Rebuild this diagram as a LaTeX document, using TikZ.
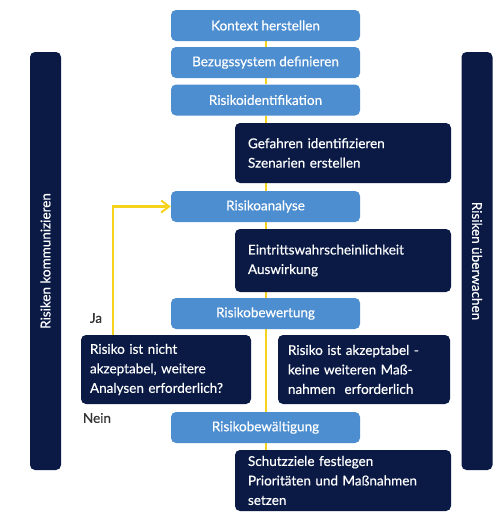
\documentclass[tikz,border=0pt]{standalone}
\usepackage{fontspec}
\setmainfont{Lato}[FakeBold=0.4]
\usetikzlibrary{arrows.meta}
\definecolor{stepblue}{HTML}{4D8ED0}
\definecolor{navy}{HTML}{0A1A45}
\definecolor{signal}{HTML}{F5D21C}
\definecolor{labelgrey}{HTML}{333333}
\pgfdeclarelayer{paper}
\pgfdeclarelayer{lines}
\pgfsetlayers{paper,lines,main}
\begin{document}
\begin{tikzpicture}[x=1pt,y=-1pt,
  boxfont/.style={font=\fontsize{13.5}{19.5}\selectfont},
  stepbox/.style={boxfont, fill=stepblue, text=white, rounded corners=5pt,
    minimum width=189pt, minimum height=31pt, inner sep=0pt},
  notebox/.style={boxfont, fill=navy, text=white, rounded corners=5pt,
    align=left, inner ysep=0pt},
  sidebar/.style={boxfont, fill=navy, text=white, rounded corners=5pt,
    minimum width=418pt, minimum height=31pt, inner sep=0pt},
  flow/.style={draw=signal, line width=2pt},
  loopback/.style={draw=signal, line width=2.5pt,
    -{Straight Barb[length=8pt,width=12pt,line width=2pt]}},
  answer/.style={text=labelgrey, font=\fontsize{13.5}{16}\selectfont, inner sep=0pt}
]
\begin{pgfonlayer}{paper}
\useasboundingbox (0,0) rectangle (499,512);
\fill[white] (0,0) rectangle (499,512);
\end{pgfonlayer}

% main process steps
\node[stepbox] (kontext)   at (265.5,25.5)  {Kontext herstellen};
\node[stepbox] (bezug)     at (265.5,62.5)  {Bezugssystem definieren};
\node[stepbox] (ident)     at (265.5,100)   {Risikoidentifikation};
\node[stepbox] (analyse)   at (265.5,206.5) {Risikoanalyse};
\node[stepbox] (bewertung) at (265.5,313.5) {Risikobewertung};
\node[stepbox] (bewaelt)   at (265.5,427.5) {Risikobewältigung};

% detail notes
\node[notebox, minimum width=216pt, minimum height=60pt, inner xsep=13pt, text width=190pt]
  (gefahren) at (343,153) {Gefahren identifizieren\\Szenarien erstellen};
\node[notebox, minimum width=216pt, minimum height=63pt, inner xsep=13pt, text width=190pt]
  (eintritt) at (343,260.5) {Eintrittswahrscheinlichkeit\\Auswirkung};
\node[notebox, minimum width=170pt, minimum height=69pt, inner xsep=9pt, text width=152pt]
  (nichtok) at (166,369.5) {Risiko ist nicht\\akzeptabel, weitere\\Analysen erforderlich?};
\node[notebox, minimum width=172pt, minimum height=69pt, inner xsep=10pt, text width=152pt]
  (okay) at (364,369.5) {Risiko ist akzeptabel -\\keine weiteren Maß-\\nahmen\ \ erforderlich};
\node[notebox, minimum width=216pt, minimum height=61pt, inner xsep=13pt, text width=190pt]
  (schutz) at (343,480.5) {Schutzziele festlegen\\Prioritäten und Maßnahmen\\setzen};

% the vertical flow line, kept behind the boxes
\begin{pgfonlayer}{lines}
\path[flow] (kontext.south) -- (bezug.north);
\path[flow] (bezug.south) -- (ident.north);
\path[flow] (ident.south) -- (analyse.north);
\path[flow] (analyse.south) -- (bewertung.north);
\path[flow] (bewertung.south) -- (bewaelt.north);
\path[flow] (bewaelt.south) -- (bewaelt.south |- schutz.north);
\end{pgfonlayer}

% side bars
\node[sidebar, rotate=90]  (kommunizieren) at (45.5,261) {Risiken kommunizieren};
\node[sidebar, rotate=-90] (ueberwachen)   at (477,261)  {Risiken überwachen};

% feedback loop back to the analysis
\coordinate (loopfoot) at (113,335);
\draw[loopback] (loopfoot) |- (analyse.west);

% answers
\node[answer] (ja)   at (96,318)  {Ja};
\node[answer] (nein) at (97,418)  {Nein};
\end{tikzpicture}
\end{document}
